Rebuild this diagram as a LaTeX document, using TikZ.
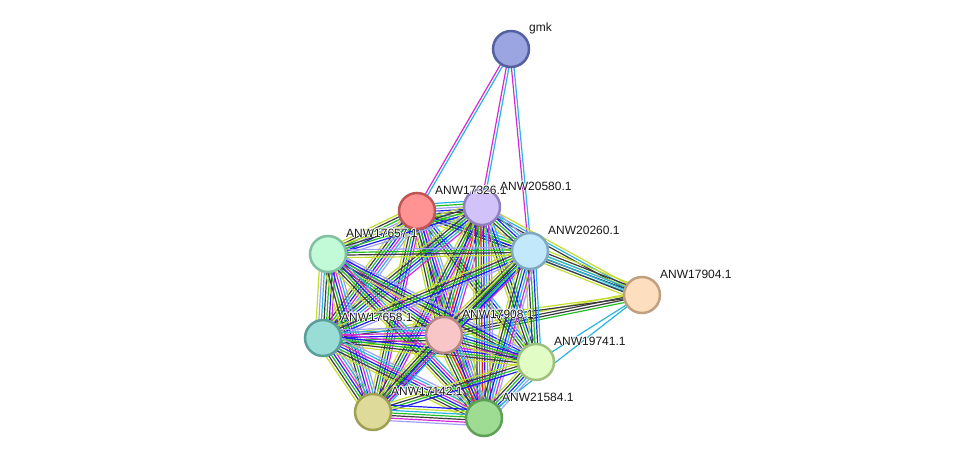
\documentclass[tikz,border=0pt]{standalone}
\usepackage{fontspec}
\setmainfont{Liberation Sans}
\usetikzlibrary{calc}
\pgfdeclarelayer{background}
\pgfsetlayers{background,main}
% edge colours
\definecolor{eTM}{RGB}{196,220,50}
\definecolor{eCO}{RGB}{60,60,60}
\definecolor{eEX}{RGB}{214,40,214}
\definecolor{eDB}{RGB}{40,180,222}
\definecolor{eNB}{RGB}{36,190,36}
\definecolor{eFU}{RGB}{255,20,20}
\definecolor{eCC}{RGB}{30,30,250}
\definecolor{eHO}{RGB}{160,160,250}
% node colours
\definecolor{fK}{RGB}{155,165,224}\definecolor{bK}{RGB}{85,96,160}
\definecolor{fA}{RGB}{255,147,147}\definecolor{bA}{RGB}{192,85,85}
\definecolor{fB}{RGB}{210,194,250}\definecolor{bB}{RGB}{144,128,192}
\definecolor{fC}{RGB}{194,250,216}\definecolor{bC}{RGB}{128,192,160}
\definecolor{fD}{RGB}{194,232,252}\definecolor{bD}{RGB}{128,168,192}
\definecolor{fJ}{RGB}{253,223,192}\definecolor{bJ}{RGB}{192,160,128}
\definecolor{fE}{RGB}{153,221,214}\definecolor{bE}{RGB}{90,158,154}
\definecolor{fF}{RGB}{248,198,198}\definecolor{bF}{RGB}{184,136,136}
\definecolor{fG}{RGB}{226,252,198}\definecolor{bG}{RGB}{160,192,128}
\definecolor{fH}{RGB}{222,218,153}\definecolor{bH}{RGB}{160,160,85}
\definecolor{fI}{RGB}{158,220,148}\definecolor{bI}{RGB}{94,160,85}
\tikzset{
  prot/.style={circle,minimum size=36pt,inner sep=0pt,line width=2.5pt},
  lbl/.style={anchor=base west,font=\fontsize{12}{14}\selectfont,inner sep=0pt,text=black!90},
  eline/.style={line width=1.2pt}
}
\newcommand\hlcopy[3]{\makebox[0pt][l]{\hspace*{#1}\raisebox{#2}{\color{white}#3}}}
\newcommand\halo[1]{%
  \hlcopy{-0.8pt}{0pt}{#1}\hlcopy{0.8pt}{0pt}{#1}%
  \hlcopy{0pt}{0.8pt}{#1}\hlcopy{0pt}{-0.8pt}{#1}%
  \hlcopy{-0.6pt}{0.6pt}{#1}\hlcopy{0.6pt}{0.6pt}{#1}%
  \hlcopy{-0.6pt}{-0.6pt}{#1}\hlcopy{0.6pt}{-0.6pt}{#1}#1}
\newcommand\sedge[3]{%
  \foreach \cc [count=\ii] in {#3} {\xdef\nedge{\ii}}%
  \foreach \cc [count=\ii] in {#3} {%
    \pgfmathsetmacro\off{(\ii-(\nedge+1)/2)*2.6}%
    \draw[eline,draw=\cc] ($(#1)!\off pt!90:(#2)$) -- ($(#2)!\off pt!-90:(#1)$);
  }%
}
\begin{document}
\begin{tikzpicture}[x=1pt,y=-1pt]
\useasboundingbox (0,0) rectangle (975,464);
% nodes
\node[prot,fill=fK,draw=bK] (K) at (511,49) {};
\node[prot,fill=fA,draw=bA] (A) at (417,211) {};
\node[prot,fill=fB,draw=bB] (B) at (482,207) {};
\node[prot,fill=fC,draw=bC] (C) at (328,254) {};
\node[prot,fill=fD,draw=bD] (D) at (530,251) {};
\node[prot,fill=fJ,draw=bJ] (J) at (642,295) {};
\node[prot,fill=fE,draw=bE] (E) at (323,338) {};
\node[prot,fill=fF,draw=bF] (F) at (444,335) {};
\node[prot,fill=fG,draw=bG] (G) at (536,362) {};
\node[prot,fill=fH,draw=bH] (H) at (373,412) {};
\node[prot,fill=fI,draw=bI] (I) at (484,418) {};
% labels
\node[lbl] (lK) at ($(K)+(18,-18)$) {\halo{gmk}};
\node[lbl] (lA) at ($(A)+(18,-17)$) {\halo{ANW17326.1}};
\node[lbl] (lB) at ($(B)+(18,-17)$) {\halo{ANW20580.1}};
\node[lbl] (lC) at ($(C)+(18,-17)$) {\halo{ANW17657.1}};
\node[lbl] (lD) at ($(D)+(18,-17)$) {\halo{ANW20260.1}};
\node[lbl] (lJ) at ($(J)+(18,-17)$) {\halo{ANW17904.1}};
\node[lbl] (lE) at ($(E)+(18,-17)$) {\halo{ANW17658.1}};
\node[lbl] (lF) at ($(F)+(18,-17)$) {\halo{ANW17908.1}};
\node[lbl] (lG) at ($(G)+(18,-17)$) {\halo{ANW19741.1}};
\node[lbl] (lH) at ($(H)+(18,-17)$) {\halo{ANW17142.1}};
\node[lbl] (lI) at ($(I)+(18,-17)$) {\halo{ANW21584.1}};
\begin{pgfonlayer}{background}
% gmk
\sedge{K}{A}{eEX,eDB}
\sedge{K}{B}{eEX,eDB}
\sedge{K}{D}{eEX,eDB}
% ANW17904.1
\sedge{J}{B}{eTM,eDB,eCO}
\sedge{J}{A}{eTM,eCO,eDB}
\sedge{J}{D}{eTM,eCO,eDB,eDB,eCO,eTM}
\sedge{J}{F}{eTM,eCO,eCO,eNB}
\sedge{J}{E}{eTM,eCO}
\sedge{J}{G}{eDB}
\sedge{J}{I}{eDB}
% cluster
\sedge{A}{B}{eTM,eCO,eCC,eHO,eNB,eDB}
\sedge{A}{C}{eTM,eCO,eNB,eHO,eCC}
\sedge{A}{D}{eTM,eCO,eCC,eNB,eDB,eHO}
\sedge{A}{E}{eTM,eCO,eNB,eCC,eEX,eDB,eHO}
\sedge{A}{F}{eTM,eCO,eNB,eCC,eEX,eDB,eHO}
\sedge{A}{G}{eTM,eCO,eNB,eCC,eDB}
\sedge{A}{H}{eTM,eCO,eNB,eCC,eEX}
\sedge{A}{I}{eTM,eCO,eNB,eCC,eEX,eDB,eHO}
\sedge{B}{C}{eTM,eCO,eNB,eCC,eHO}
\sedge{B}{D}{eTM,eCO,eNB,eCC,eDB,eHO}
\sedge{B}{E}{eTM,eCO,eNB,eCC,eDB,eEX}
\sedge{B}{F}{eTM,eCO,eNB,eFU,eCC,eDB,eEX}
\sedge{B}{G}{eTM,eCO,eNB,eCC,eDB}
\sedge{B}{H}{eTM,eCO,eNB,eCC,eEX}
\sedge{B}{I}{eTM,eCO,eNB,eFU,eCC,eDB,eEX,eHO}
\sedge{C}{D}{eTM,eCO,eNB,eHO}
\sedge{C}{E}{eTM,eHO,eDB,eCO,eNB,eCC,eEX}
\sedge{C}{F}{eTM,eCO,eNB,eCC,eEX,eHO}
\sedge{C}{G}{eTM,eCO,eNB,eCC,eHO}
\sedge{C}{H}{eTM,eCO,eNB,eCC,eEX,eDB,eHO}
\sedge{C}{I}{eTM,eCO,eNB,eCC,eEX,eDB}
\sedge{D}{E}{eTM,eCO,eNB,eCC,eHO}
\sedge{D}{F}{eTM,eCO,eNB,eCC,eDB,eEX}
\sedge{D}{G}{eTM,eCO,eNB,eCC,eDB}
\sedge{D}{H}{eTM,eCO,eNB,eCC}
\sedge{D}{I}{eTM,eCO,eNB,eCC,eDB,eEX,eHO}
\sedge{E}{F}{eTM,eCO,eNB,eCC,eEX,eDB,eHO}
\sedge{E}{G}{eTM,eCO,eNB,eCC,eEX}
\sedge{E}{H}{eTM,eCO,eNB,eCC,eEX,eDB,eHO}
\sedge{E}{I}{eTM,eCO,eNB,eCC,eEX,eDB,eHO}
\sedge{F}{G}{eTM,eCO,eNB,eCC,eDB}
\sedge{F}{H}{eTM,eCO,eNB,eCC,eEX,eDB}
\sedge{F}{I}{eTM,eCO,eNB,eFU,eCC,eEX,eDB,eHO}
\sedge{G}{H}{eTM,eCO,eNB,eCC}
\sedge{G}{I}{eTM,eCO,eNB,eCC,eDB,eHO}
\sedge{H}{I}{eHO,eEX,eCO,eNB,eDB,eTM,eCC}
\end{pgfonlayer}
\end{tikzpicture}
\end{document}
